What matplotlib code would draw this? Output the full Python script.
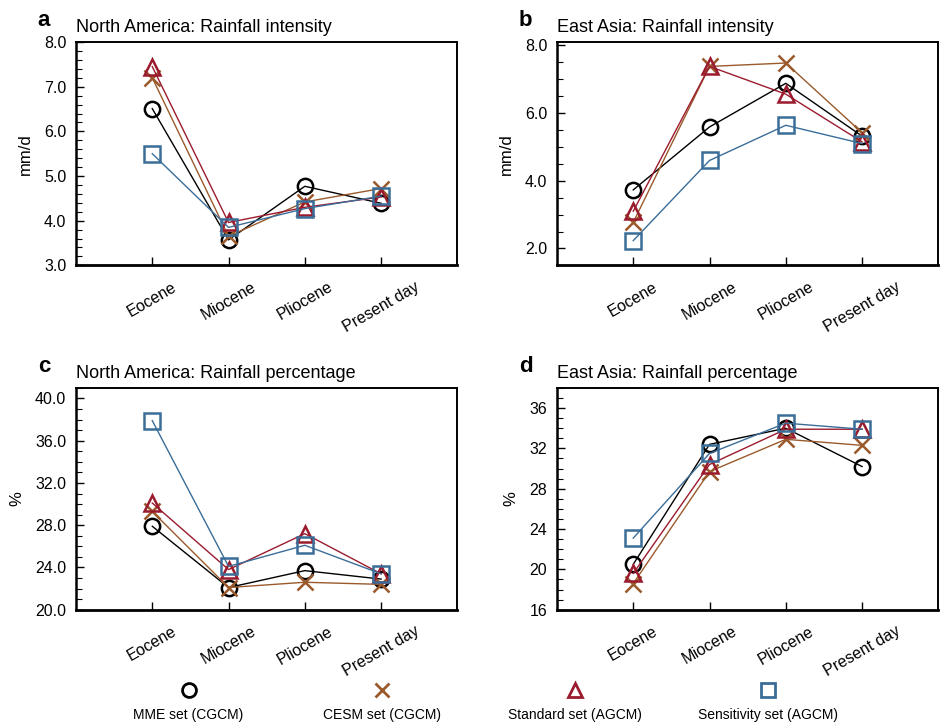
import matplotlib
matplotlib.use("Agg")
import matplotlib.pyplot as plt
from matplotlib.ticker import MultipleLocator, FormatStrFormatter

plt.rcParams['font.family'] = ['Liberation Sans', 'DejaVu Sans']

periods = ["Eocene", "Miocene", "Pliocene", "Present day"]
series_names = ["MME set (CGCM)", "CESM set (CGCM)", "Standard set (AGCM)", "Sensitivity set (AGCM)"]
markers = ["o", "x", "^", "s"]
colours = ["#000000", "#9A5A2C", "#9B1B2E", "#3A6D98"]

# a: North America rainfall intensity (mm/d)
na_int_mme = [6.51, 3.57, 4.77, 4.39]
na_int_cesm = [7.20, 3.65, 4.42, 4.72]
na_int_std = [7.45, 3.96, 4.30, 4.53]
na_int_sens = [5.50, 3.85, 4.27, 4.55]

# b: East Asia rainfall intensity (mm/d)
ea_int_mme = [3.73, 5.59, 6.88, 5.32]
ea_int_cesm = [2.77, 7.38, 7.48, 5.42]
ea_int_std = [3.10, 7.38, 6.56, 5.15]
ea_int_sens = [2.23, 4.60, 5.64, 5.10]

# c: North America rainfall percentage (%)
na_pct_mme = [27.9, 22.1, 23.7, 22.9]
na_pct_cesm = [29.3, 22.1, 22.6, 22.4]
na_pct_std = [30.1, 23.8, 27.2, 23.4]
na_pct_sens = [37.9, 24.1, 26.1, 23.4]

# d: East Asia rainfall percentage (%)
ea_pct_mme = [20.5, 32.4, 34.0, 30.2]
ea_pct_cesm = [18.6, 29.7, 32.9, 32.3]
ea_pct_std = [19.6, 30.4, 33.9, 33.9]
ea_pct_sens = [23.1, 31.5, 34.5, 33.9]

panels = [
    ("a", "North America: Rainfall intensity", "mm/d",
     [na_int_mme, na_int_cesm, na_int_std, na_int_sens], (3.0, 8.0), 1.0, 0.2, "%.1f"),
    ("b", "East Asia: Rainfall intensity", "mm/d",
     [ea_int_mme, ea_int_cesm, ea_int_std, ea_int_sens], (1.5, 8.1), 2.0, 0.5, "%.1f"),
    ("c", "North America: Rainfall percentage", "%",
     [na_pct_mme, na_pct_cesm, na_pct_std, na_pct_sens], (20.0, 41.0), 4.0, 1.0, "%.1f"),
    ("d", "East Asia: Rainfall percentage", "%",
     [ea_pct_mme, ea_pct_cesm, ea_pct_std, ea_pct_sens], (16.0, 38.0), 4.0, 1.0, "%d"),
]

positions = [
    [0.0805, 0.634, 0.404, 0.308],
    [0.590, 0.634, 0.404, 0.308],
    [0.0805, 0.159, 0.404, 0.306],
    [0.590, 0.159, 0.404, 0.306],
]

fig = plt.figure(figsize=(9.44, 7.25), dpi=100)
xs = [1, 2, 3, 4]

for (letter, title, ylab, data, ylim, major, minor, fmt), pos in zip(panels, positions):
    ax = fig.add_axes(pos)
    for vals, mk, col in zip(data, markers, colours):
        ax.plot(xs, vals, color=col, lw=1.0, marker=mk, markersize=11 if mk != "x" else 12,
                markerfacecolor="none", markeredgecolor=col, markeredgewidth=1.8)
    ax.set_xlim(0, 5)
    ax.set_ylim(*ylim)
    ax.yaxis.set_major_locator(MultipleLocator(major))
    ax.yaxis.set_minor_locator(MultipleLocator(minor))
    ax.yaxis.set_major_formatter(FormatStrFormatter(fmt))
    ax.set_xticks(xs)
    ax.set_xticklabels(periods, rotation=30, ha="center")
    ax.tick_params(axis="y", which="major", direction="in", length=6, width=1, labelsize=11.5, pad=7)
    ax.tick_params(axis="y", which="minor", direction="in", length=4, width=0.8)
    ax.tick_params(axis="x", which="major", direction="in", length=6, width=1, labelsize=11.5, pad=10)
    for s in ax.spines.values():
        s.set_linewidth(1.4)
    ax.spines["bottom"].set_linewidth(2)
    ax.spines["left"].set_linewidth(1.8)
    ax.set_ylabel(ylab, fontsize=12, labelpad=8)
    ax.text(0.0, 1.045, title, transform=ax.transAxes, fontsize=13, ha="left", va="baseline")
    ax.text(-0.1, 1.07, letter, transform=ax.transAxes, fontsize=16, fontweight="bold",
            ha="left", va="baseline")

# legend row: marker above label
lax = fig.add_axes([0.0975, 0.0, 0.818, 0.07])
lax.set_xlim(0, 4)
lax.set_ylim(0, 1)
lax.axis("off")
for i, (name, mk, col) in enumerate(zip(series_names, markers, colours)):
    lax.plot([i + 0.5], [0.68], marker=mk, markersize=10, markerfacecolor="none",
             markeredgecolor=col, markeredgewidth=2, linestyle="none")
    lax.text(i + 0.5, 0.19, name, ha="center", va="center", fontsize=10)

fig.savefig("out.png", dpi=100)
